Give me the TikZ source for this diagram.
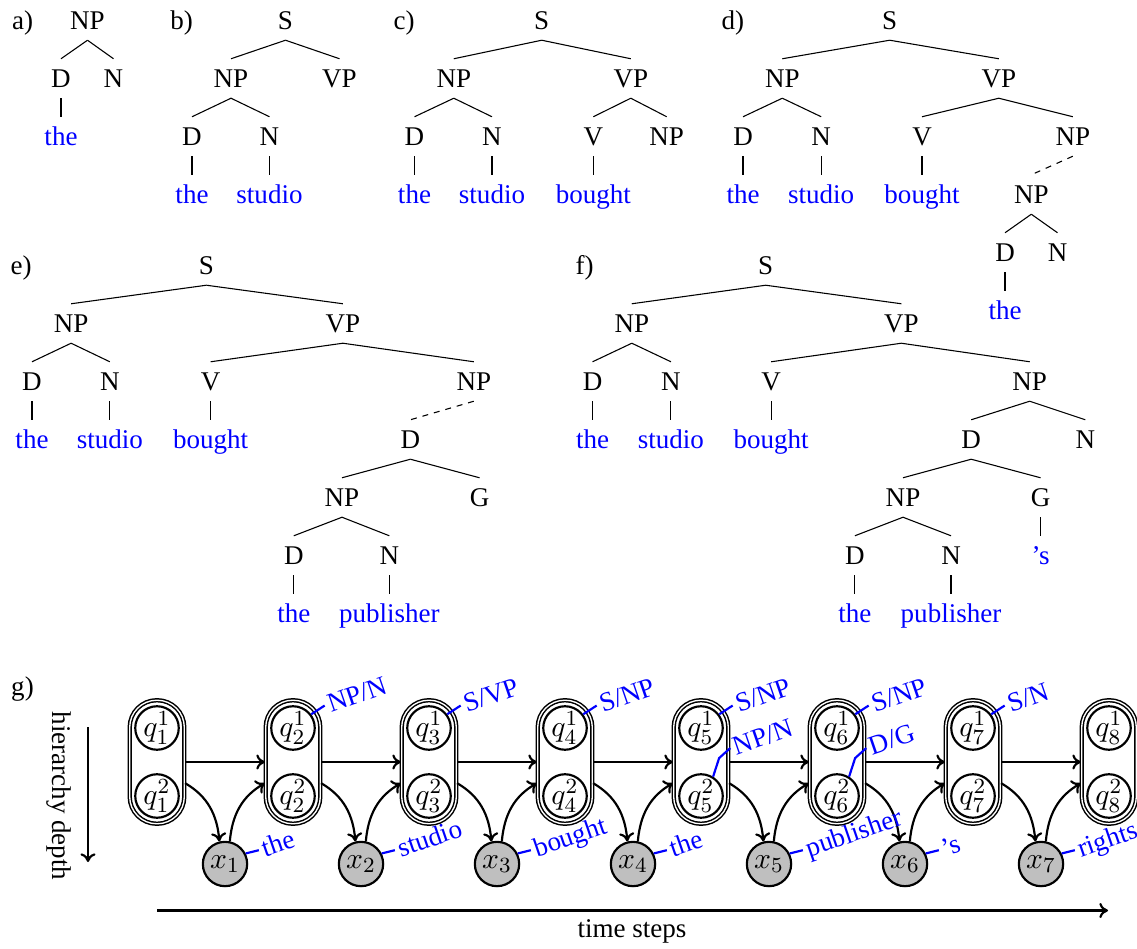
\documentclass[tikz,border=0pt]{standalone}
\usepackage{fontspec}
\setmainfont{Liberation Serif}
\usetikzlibrary{arrows.meta}
\begin{document}
\begin{tikzpicture}[x=0.37pt,y=0.37pt,
  tn/.style={font=\fontsize{10}{12}\selectfont,text height=6.6pt,text depth=0pt,inner sep=0pt,outer sep=4pt},
  tw/.style={tn,text=blue},
  te/.style={draw,line width=0.4pt},
  tdash/.style={te,dash pattern=on 2.2pt off 2.2pt},
  qc/.style={circle,draw,thick,minimum size=16.1pt,inner sep=0pt,fill=white,font=\fontsize{10.95}{13}\selectfont},
  xc/.style={circle,draw,thick,fill=lightgray,minimum size=16.4pt,inner sep=0pt,font=\fontsize{10.95}{13}\selectfont},
  pill/.style={draw,line width=0.55pt,double,double distance=0.5pt,rounded corners=10pt,minimum width=20.2pt,minimum height=45.7pt,inner sep=0pt},
  arr/.style={thick,-{To[length=3.2pt,width=5.6pt]}},
  pinl/.style={draw=blue,thick},
  plab/.style={text=blue,font=\fontsize{10}{12}\selectfont,anchor=west,rotate=19,inner sep=1pt,text height=6.6pt,text depth=0pt}
]
\useasboundingbox (0,0) rectangle (1137,-949);

% ---------- tree a
\node[tn] (la) at (22.5,-20.5) {a)};
\node[tn] (aS) at (87.5,-20.5) {NP};
\node[tn] (aD) at (61,-78.5) {D};
\node[tn] (aN) at (113.5,-78.5) {N};
\node[tw] (aw1) at (61,-136.5) {the};
\foreach \p/\c in {aS/aD,aS/aN,aD/aw1} \draw[te] (\p.south) -- (\c.north);

% ---------- tree b
\node[tn] (lb) at (181.7,-20.5) {b)};
\node[tn] (bS) at (285.5,-20.5) {S};
\node[tn] (bNP) at (231,-78.5) {NP};
\node[tn] (bVP) at (339.5,-78.5) {VP};
\node[tn] (bD) at (192,-136.5) {D};
\node[tn] (bN) at (269.5,-136.5) {N};
\node[tw] (bw1) at (192,-194.5) {the};
\node[tw] (bw2) at (269.5,-194.5) {studio};
\foreach \p/\c in {bS/bNP,bS/bVP,bNP/bD,bNP/bN,bD/bw1,bN/bw2} \draw[te] (\p.south) -- (\c.north);

% ---------- tree c
\node[tn] (lc) at (404,-20.5) {c)};
\node[tn] (cS) at (541.7,-20.5) {S};
\node[tn] (cNP) at (453.8,-78.5) {NP};
\node[tn] (cVP) at (630.8,-78.5) {VP};
\node[tn] (cD) at (414.5,-136.5) {D};
\node[tn] (cN) at (492,-136.5) {N};
\node[tn] (cV) at (593.3,-136.5) {V};
\node[tn] (cNP2) at (666.7,-136.5) {NP};
\node[tw] (cw1) at (414.5,-194.5) {the};
\node[tw] (cw2) at (492,-194.5) {studio};
\node[tw] (cw3) at (593.3,-194.5) {bought};
\foreach \p/\c in {cS/cNP,cS/cVP,cNP/cD,cNP/cN,cVP/cV,cVP/cNP2,cD/cw1,cN/cw2,cV/cw3} \draw[te] (\p.south) -- (\c.north);

% ---------- tree d
\node[tn] (ld) at (732.8,-20.5) {d)};
\node[tn] (dS) at (889.7,-20.5) {S};
\node[tn] (dNP) at (782.3,-78.5) {NP};
\node[tn] (dVP) at (998.8,-78.5) {VP};
\node[tn] (dD) at (743,-136.5) {D};
\node[tn] (dN) at (821.2,-136.5) {N};
\node[tn] (dV) at (922,-136.5) {V};
\node[tn] (dNP2) at (1072.8,-136.5) {NP};
\node[tw] (dw1) at (743,-194.5) {the};
\node[tw] (dw2) at (821.2,-194.5) {studio};
\node[tw] (dw3) at (922,-194.5) {bought};
\node[tn] (dNP3) at (1031.3,-194.5) {NP};
\node[tn] (dD3) at (1005,-252.5) {D};
\node[tn] (dN3) at (1057.5,-252.5) {N};
\node[tw] (dw4) at (1005,-310.5) {the};
\foreach \p/\c in {dS/dNP,dS/dVP,dNP/dD,dNP/dN,dVP/dV,dVP/dNP2,dD/dw1,dN/dw2,dV/dw3,dNP3/dD3,dNP3/dN3,dD3/dw4} \draw[te] (\p.south) -- (\c.north);
\draw[tdash] (dNP2.south) -- (dNP3.north);

% ---------- tree e
\node[tn] (le) at (21,-265.5) {e)};
\node[tn] (eS) at (206.4,-265.5) {S};
\node[tn] (eNP) at (71.1,-323.5) {NP};
\node[tn] (eVP) at (342.9,-323.5) {VP};
\node[tn] (eD) at (32,-381.5) {D};
\node[tn] (eN) at (109.8,-381.5) {N};
\node[tn] (eV) at (210.7,-381.5) {V};
\node[tn] (eNP2) at (473.8,-381.5) {NP};
\node[tw] (ew1) at (32,-439.5) {the};
\node[tw] (ew2) at (109.8,-439.5) {studio};
\node[tw] (ew3) at (210.7,-439.5) {bought};
\node[tn] (eD2) at (410.4,-439.5) {D};
\node[tn] (eNP3) at (342,-497.5) {NP};
\node[tn] (eG) at (479.5,-497.5) {G};
\node[tn] (eD3) at (293.8,-555.5) {D};
\node[tn] (eN3) at (389.3,-555.5) {N};
\node[tw] (ew4) at (293.8,-613.5) {the};
\node[tw] (ew5) at (389.3,-613.5) {publisher};
\foreach \p/\c in {eS/eNP,eS/eVP,eNP/eD,eNP/eN,eVP/eV,eVP/eNP2,eD/ew1,eN/ew2,eV/ew3,eD2/eNP3,eD2/eG,eNP3/eD3,eNP3/eN3,eD3/ew4,eN3/ew5} \draw[te] (\p.south) -- (\c.north);
\draw[tdash] (eNP2.south) -- (eD2.north);

% ---------- tree f
\node[tn] (lf) at (584.7,-265.5) {f)};
\node[tn] (fS) at (765.7,-265.5) {S};
\node[tn] (fNP) at (631.8,-323.5) {NP};
\node[tn] (fVP) at (901.3,-323.5) {VP};
\node[tn] (fD) at (592.6,-381.5) {D};
\node[tn] (fN) at (670.9,-381.5) {N};
\node[tn] (fV) at (771.2,-381.5) {V};
\node[tn] (fNP2) at (1029.7,-381.5) {NP};
\node[tw] (fw1) at (592.6,-439.5) {the};
\node[tw] (fw2) at (670.9,-439.5) {studio};
\node[tw] (fw3) at (771.2,-439.5) {bought};
\node[tn] (fD2) at (971.2,-439.5) {D};
\node[tn] (fN2) at (1085.3,-439.5) {N};
\node[tn] (fNP3) at (903,-497.5) {NP};
\node[tn] (fG) at (1040.5,-497.5) {G};
\node[tn] (fD3) at (854.9,-555.5) {D};
\node[tn] (fN3) at (951,-555.5) {N};
\node[tw] (fw6) at (1040.5,-555.5) {’s};
\node[tw] (fw4) at (854.9,-613.5) {the};
\node[tw] (fw5) at (951,-613.5) {publisher};
\foreach \p/\c in {fS/fNP,fS/fVP,fNP/fD,fNP/fN,fVP/fV,fVP/fNP2,fD/fw1,fN/fw2,fV/fw3,fNP2/fD2,fNP2/fN2,fD2/fNP3,fD2/fG,fG/fw6,fNP3/fD3,fNP3/fN3,fD3/fw4,fN3/fw5} \draw[te] (\p.south) -- (\c.north);

% ---------- g
\node[tn] (lg) at (22.5,-687) {g)};
\foreach \i in {1,...,8}{
  \pgfmathsetmacro\cx{157+136*(\i-1)}
  \node[pill] (p\i) at (\cx,-762) {};
  \node[qc] (qa\i) at (\cx,-728) {$q^1_{\i}$};
  \node[qc] (qb\i) at (\cx,-796) {$q^2_{\i}$};
}
\foreach \i in {1,...,7}{
  \pgfmathsetmacro\cx{225+136*(\i-1)}
  \node[xc] (x\i) at (\cx,-864) {$x_{\i}$};
}
\foreach \i in {1,...,7}{
  \pgfmathtruncatemacro\j{\i+1}
  \draw[arr] (p\i.east) -- (p\j.west);
  \draw[arr] (p\i.-37) to[out=-30,in=95] (x\i.104);
  \draw[arr] (x\i.78) to[out=85,in=210] (p\j.217);
}
% pins
\draw[pinl] (qa2.37) -- ++(33:16) node[plab] (lq2) {NP/N};
\draw[pinl] (qa3.37) -- ++(33:16) node[plab] (lq3) {S/VP};
\draw[pinl] (qa4.37) -- ++(33:16) node[plab] (lq4) {S/NP};
\draw[pinl] (qa5.37) -- ++(33:16) node[plab] (lq5) {S/NP};
\draw[pinl] (qa6.37) -- ++(33:16) node[plab] (lq6) {S/NP};
\draw[pinl] (qa7.37) -- ++(33:16) node[plab] (lq7) {S/N};
\draw[pinl] (qb5.58) -- ++(72:19.5) -- ++(42:15) node[plab] (lr5) {NP/N};
\draw[pinl] (qb6.58) -- ++(72:19.5) -- ++(42:15) node[plab] (lr6) {D/G};
\draw[pinl] (x1.27) -- ++(14:13.5) node[plab] (lx1) {the};
\draw[pinl] (x2.27) -- ++(14:13.5) node[plab] (lx2) {studio};
\draw[pinl] (x3.27) -- ++(14:13.5) node[plab] (lx3) {bought};
\draw[pinl] (x4.27) -- ++(14:13.5) node[plab] (lx4) {the};
\draw[pinl] (x5.27) -- ++(14:13.5) node[plab] (lx5) {publisher};
\draw[pinl] (x6.27) -- ++(14:13.5) node[plab] (lx6) {’s};
\draw[pinl] (x7.27) -- ++(14:13.5) node[plab] (lx7) {rights};

% axes
\coordinate (hd0) at (88,-727);
\coordinate (hd1) at (88,-862);
\draw[arr] (hd0) -- (hd1);
\node[tn,rotate=-90] (hd) at (61,-796) {hierarchy depth};
\coordinate (ts0) at (157,-910.5);
\coordinate (ts1) at (1108,-910.5);
\draw[arr] (ts0) -- (ts1);
\node[tn] (ts) at (632,-929) {time steps};
\end{tikzpicture}
\end{document}
